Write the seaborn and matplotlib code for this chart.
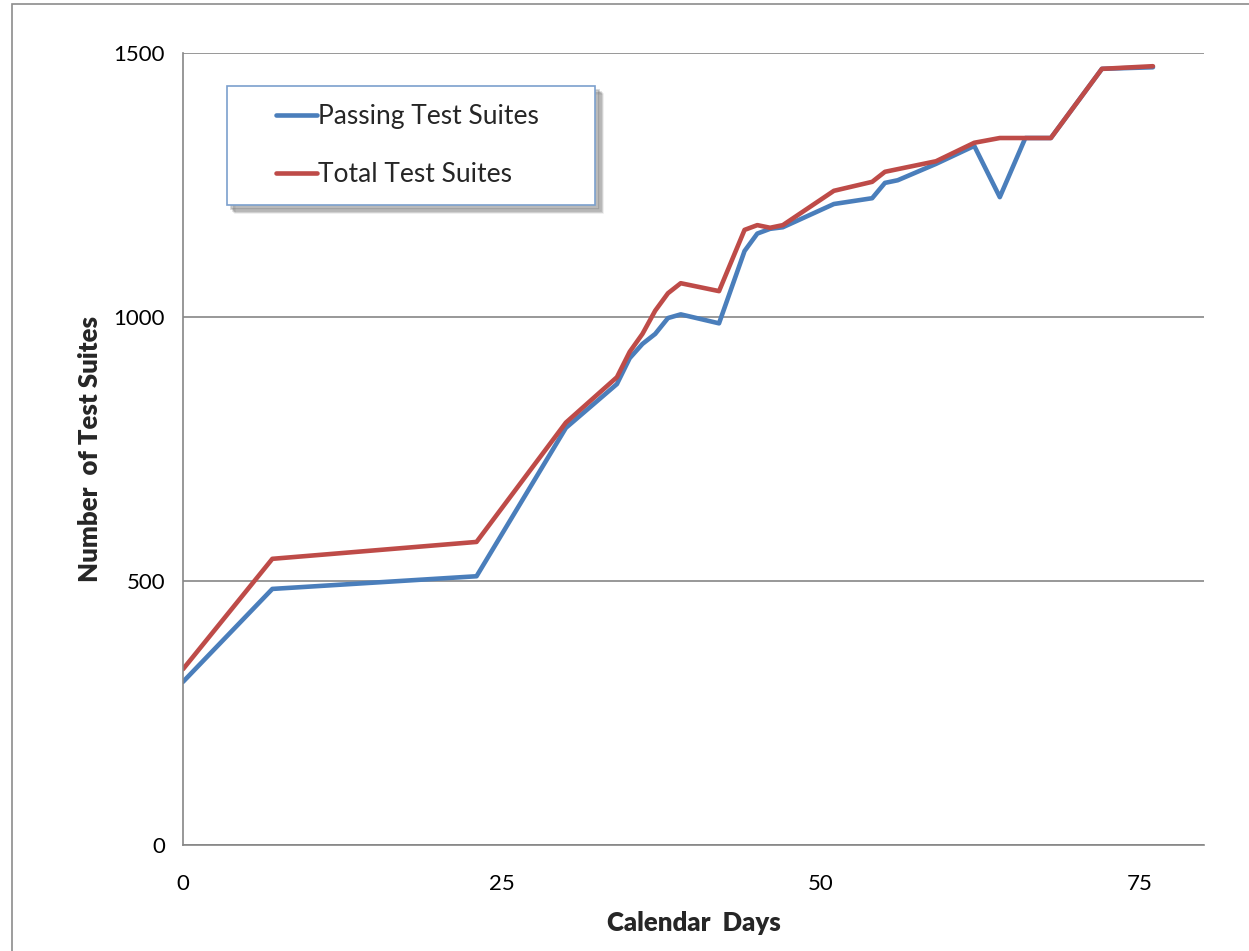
import matplotlib
matplotlib.use("Agg")
import matplotlib.pyplot as plt
from matplotlib.patches import Rectangle, Shadow
import pandas as pd
import seaborn as sns

# Test-suite counts per calendar day
days = [0, 7, 23, 30, 34, 35, 36, 37, 38, 39, 42, 44, 45, 46, 47,
        51, 54, 55, 56, 59, 62, 64, 66, 68, 72, 76]
passing = [309, 485, 509, 790, 873, 922, 949, 968, 998, 1005, 988, 1125, 1158, 1167, 1170,
           1214, 1225, 1254, 1259, 1290, 1324, 1227, 1339, 1339, 1470, 1473]
total = [333, 542, 574, 800, 886, 934, 968, 1012, 1045, 1064, 1049, 1165, 1174, 1169, 1174,
         1239, 1256, 1275, 1280, 1295, 1330, 1339, 1339, 1339, 1470, 1475]

series_names = ["Passing Test Suites", "Total Test Suites"]
series_colors = ["#4A7EBB", "#BE4B48"]
x_ticks = [0, 25, 50, 75]
y_ticks = [0, 500, 1000, 1500]

df = pd.concat([
    pd.DataFrame({"day": days, "count": passing, "series": series_names[0]}),
    pd.DataFrame({"day": days, "count": total, "series": series_names[1]}),
])

sns.set_theme(style="white")
plt.rcParams["font.family"] = ["Lato", "DejaVu Sans"]

W, H = 1249, 951
fig = plt.figure(figsize=(W / 100, H / 100), dpi=100)
ax = fig.add_axes([183 / W, 1 - 845 / H, 1021 / W, 792 / H])

# outer chart frame
fig.patches.append(Rectangle((12 / W, -0.01), 1.02, 1 - 4 / H + 0.01,
                             transform=fig.transFigure, fill=False,
                             edgecolor="#8C8C8C", linewidth=1.2, zorder=0))

sns.lineplot(data=df, x="day", y="count", hue="series", hue_order=series_names,
             palette=series_colors, linewidth=3.3, ax=ax, sort=False,
             estimator=None, legend=True)

ax.set_xlim(0, 80)
ax.set_ylim(0, 1500)
ax.set_xticks(x_ticks)
ax.set_yticks(y_ticks)
ax.yaxis.grid(True, color="#868686", linewidth=1.2)
ax.xaxis.grid(False)
ax.set_axisbelow(True)

for side in ["top", "right"]:
    ax.spines[side].set_visible(False)
for side in ["left", "bottom"]:
    ax.spines[side].set_color("#868686")
    ax.spines[side].set_linewidth(1.2)

ax.tick_params(axis="both", which="major", labelsize=16, colors="#868686",
               labelcolor="black", direction="out", length=7, width=1.2, pad=6)
ax.tick_params(axis="x", pad=14)

ax.set_xlabel("Calendar  Days", fontsize=18.5, fontweight="heavy", labelpad=12)
ax.set_ylabel("Number  of Test Suites", fontsize=18.5, fontweight="heavy", labelpad=8)

# legend box with a soft drop shadow
box = Rectangle((227 / W, 1 - 205 / H), 368 / W, 119 / H, transform=fig.transFigure,
                facecolor="white", edgecolor="#7BA0CD", linewidth=1.2,
                zorder=4.5, clip_on=False)
for k, a in [(6, 0.10), (5, 0.15), (4, 0.20), (3, 0.25)]:
    ax.add_patch(Shadow(box, k / W, -k / H, facecolor="#808080", alpha=a,
                        zorder=4.4, clip_on=False))
ax.add_patch(box)

leg = ax.legend(loc="upper left", bbox_to_anchor=(276 / W, 1 - 104 / H),
                bbox_transform=fig.transFigure, borderaxespad=0, borderpad=0,
                fontsize=19, frameon=False, handlelength=1.55, handletextpad=0.05,
                labelspacing=1.25, title=None)
leg.set_zorder(6)

fig.savefig("out.png", dpi=100)
